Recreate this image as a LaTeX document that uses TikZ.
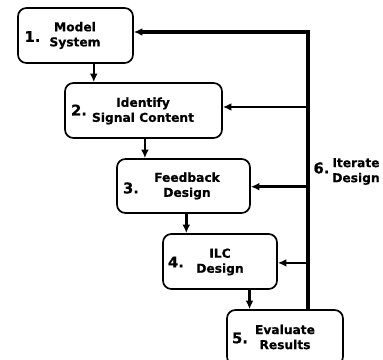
\documentclass[tikz,border=0pt]{standalone}
\usepackage{fontspec}
\setmainfont{DejaVu Sans}[BoldFeatures={FakeBold=0.6}]
\usepackage{tikz}
\usetikzlibrary{arrows.meta,positioning}

\tikzset{
  stepbox/.style={draw, line width=1.2pt, rounded corners=6pt, minimum height=1.375cm},
  stepnum/.style={inner sep=0pt, font=\bfseries\fontsize{10.5}{12}\selectfont},
  steptxt/.style={inner sep=0pt, align=center, font=\bfseries\fontsize{8.7}{10.7}\selectfont},
  flow/.style={line width=1.8pt, -{Latex[length=6pt,width=5.5pt]}},
}

\begin{document}
\begin{tikzpicture}[x=0.025cm,y=-0.025cm]
\useasboundingbox (0,0) rectangle (383,360);

% the five steps
\node[stepbox, minimum width=2.875cm] (b1) at (75.5,35.5) {};
\node[stepbox, minimum width=3.925cm] (b2) at (143.5,110.5) {};
\node[stepbox, minimum width=3.325cm, minimum height=1.35cm] (b3) at (183.5,186) {};
\node[stepbox, minimum width=2.85cm] (b4) at (220,261.5) {};
\node[stepbox, minimum width=2.9cm] (b5) at (285,337.5) {};

\node[stepnum] (n1) at (32.5,36.5) {1.};
\node[steptxt] (t1) at (75,35.5) {Model\\System};
\node[stepnum] (n2) at (79,110) {2.};
\node[steptxt] (t2) at (143,111) {Identify\\Signal Content};
\node[stepnum] (n3) at (131,188) {3.};
\node[steptxt] (t3) at (187,186) {Feedback\\Design};
\node[stepnum] (n4) at (176,262) {4.};
\node[steptxt] (t4) at (220,262) {ILC\\Design};
\node[stepnum] (n5) at (240,338) {5.};
\node[steptxt] (t5) at (285,337) {Evaluate\\Results};

% going down
\draw[flow] ([xshift=13pt]b1.south) -- ([xshift=13pt]b1.south |- b2.north);
\draw[flow] ([xshift=1pt]b2.south) -- ([xshift=1pt]b2.south |- b3.north);
\draw[flow] ([xshift=2pt]b3.south) -- ([xshift=2pt]b3.south |- b4.north);
\draw[flow] ([xshift=21pt]b4.south) -- ([xshift=21pt]b4.south |- b5.north);

% iterate loop
\coordinate (top) at (308,32);
\draw[flow, line width=2.2pt] (b5.north -| top) -- (top) -- (b1.east |- top);
\draw[flow] ([yshift=2.5pt]b2.east -| top) -- ([yshift=2.5pt]b2.east);
\draw[flow] ([yshift=-0.5pt]b3.east -| top) -- ([yshift=-0.5pt]b3.east);
\draw[flow] ([yshift=-1pt]b4.east -| top) -- ([yshift=-1pt]b4.east);

\node[stepnum] (n6) at (321.5,168) {6.};
\node[steptxt] (t6) at (356,171.5) {Iterate\\Design};
\end{tikzpicture}
\end{document}
